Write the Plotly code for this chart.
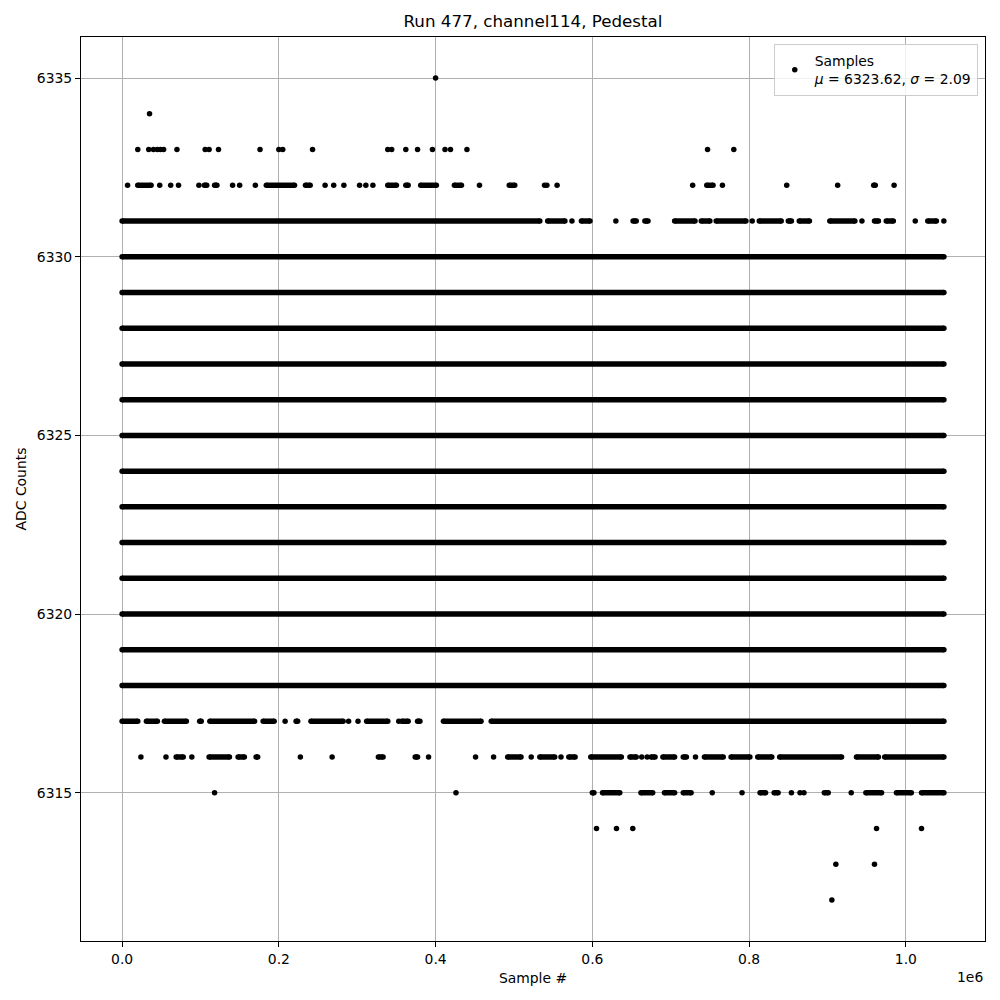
import plotly.graph_objects as go

# ---------------- data (x positions in thousands of samples) ----------------
N_LAST = 1048.575          # index of last sample / 1000
MU, SIGMA = 6323.62, 2.09

dense_levels = [6318, 6319, 6320, 6321, 6322, 6323, 6324, 6325, 6326, 6327, 6328, 6329, 6330]

points_6335 = [400]
points_6334 = [35]
points_6333 = [20, 34, 40, 45, 49, 53, 70, 106, 111, 123, 176, 200, 205, 243, 339, 344,
               362, 377, 396, 412, 419, 440, 747, 780.5]
points_6332 = [7, 48, 62, 72, 98, 141, 150, 170, 259, 270, 283, 303, 311, 320, 456,
               539, 542, 555, 728, 766, 848, 913, 985]
runs_6332 = [(20, 37), (105, 108), (118, 121), (184, 220), (234, 240), (339, 350),
             (362, 365), (381, 401), (424, 433), (494, 501), (746, 754), (959, 961)]
points_6331 = [574, 630, 804, 944, 1012, 1048.5]
runs_6331 = [(0, 533), (543, 565), (586, 597), (652, 656), (667, 671), (705, 731),
             (739, 750), (758, 796), (813, 841), (850, 854), (864, 877), (903, 935),
             (960, 965), (975, 984), (1028, 1039)]
points_6317 = [208, 289, 301, 353]
runs_6317 = [(0, 20), (31, 45), (54, 82), (99, 101), (112, 169), (180, 194), (222, 224),
             (241, 282), (312, 339), (357, 365), (377, 380), (410, 458), (471, N_LAST)]
points_6316 = [24, 56, 89, 227.5, 268, 391, 451, 474, 522, 560, 663, 670, 731.6]
runs_6316 = [(69, 78), (111, 137), (148, 156), (171, 173), (327, 333), (374, 377),
             (492, 509), (533, 552), (570, 578), (598, 637), (648, 656), (675, 680),
             (690, 705), (716, 720), (743, 767), (777, 801), (811, 829), (839, 918),
             (937, 965), (973, N_LAST)]
points_6315 = [118, 426, 753, 791, 854, 865, 870, 930.3]
runs_6315 = [(600, 602), (613, 635), (662, 677), (692, 705), (716, 726), (814, 821),
             (832, 837), (896, 901), (949, 969), (988, 1007), (1020, N_LAST)]
points_6314 = [605.3, 630.8, 651.6, 962.6, 1020]
points_6313 = [910.7, 960]
points_6312 = [905.6]

x_tick_vals = [0, 0.2, 0.4, 0.6, 0.8, 1.0]          # in units of 1e6
x_tick_text = ["0.0", "0.2", "0.4", "0.6", "0.8", "1.0"]
y_tick_vals = [6315, 6320, 6325, 6330, 6335]

# ---------------- assemble ----------------
point_sets = {6335: points_6335, 6334: points_6334, 6333: points_6333, 6332: points_6332,
              6331: points_6331, 6317: points_6317, 6316: points_6316, 6315: points_6315,
              6314: points_6314, 6313: points_6313, 6312: points_6312}
run_sets = {6332: runs_6332, 6331: runs_6331, 6317: runs_6317, 6316: runs_6316,
            6315: runs_6315}
for lv in dense_levels:
    run_sets[lv] = [(0, N_LAST)]

px_x, px_y = [], []
for lv, xs in point_sets.items():
    for xv in xs:
        px_x.append(xv * 1000)
        px_y.append(lv)

rx, ry = [], []
for lv, rs in run_sets.items():
    for a, b in rs:
        rx += [a * 1000, b * 1000, None]
        ry += [lv, lv, None]

DOT = 5.5
fig = go.Figure()
fig.add_trace(go.Scatter(x=rx, y=ry, mode="lines+markers",
                         line=dict(color="black", width=DOT),
                         marker=dict(color="black", size=DOT),
                         showlegend=False, hoverinfo="skip"))
fig.add_trace(go.Scatter(x=px_x, y=px_y, mode="markers",
                         marker=dict(color="black", size=DOT),
                         name=f"Samples<br><i>μ</i> = {MU:.2f}, <i>σ</i> = {SIGMA:.2f}"))

FONT = "DejaVu Sans"
axis_common = dict(showline=True, linecolor="black", linewidth=1, mirror=True,
                   ticks="outside", ticklen=5, tickcolor="black", tickwidth=1,
                   showgrid=True, gridcolor="#b0b0b0", gridwidth=1, zeroline=False,
                   automargin=False,
                   tickfont=dict(family=FONT, size=13.9, color="black"))

W = H = 992   # page body has an 8px margin
fig.update_layout(
    width=W, height=H,
    margin=dict(l=73, r=15, t=29, b=59),
    paper_bgcolor="white", plot_bgcolor="white",
    font=dict(family=FONT, color="black"),
    title=dict(text="Run 477, channel114, Pedestal", x=0.5, xref="paper",
               y=1 - 13 / H, yanchor="middle",
               font=dict(family=FONT, size=16.7, color="black")),
    xaxis=dict(range=[-52428.75, 1101003.75],
               tickvals=[v * 1e6 for v in x_tick_vals], ticktext=x_tick_text,
               title=dict(text="Sample #", standoff=7,
                          font=dict(family=FONT, size=13.9, color="black")),
               **axis_common),
    yaxis=dict(range=[6310.85, 6336.15], tickvals=y_tick_vals,
               title=dict(text="ADC Counts", standoff=6,
                          font=dict(family=FONT, size=13.9, color="black")),
               **axis_common),
    legend=dict(x=0.992, y=0.992, xanchor="right", yanchor="top",
                bgcolor="rgba(255,255,255,0.8)", bordercolor="#cccccc", borderwidth=1,
                font=dict(family=FONT, size=13.9, color="black")),
    annotations=[dict(text="1e6", xref="paper", yref="paper", x=1.0, y=0,
                      xanchor="right", yanchor="top", yshift=-26, showarrow=False,
                      font=dict(family=FONT, size=13.9, color="black"))],
)

fig.write_html("out.html")
